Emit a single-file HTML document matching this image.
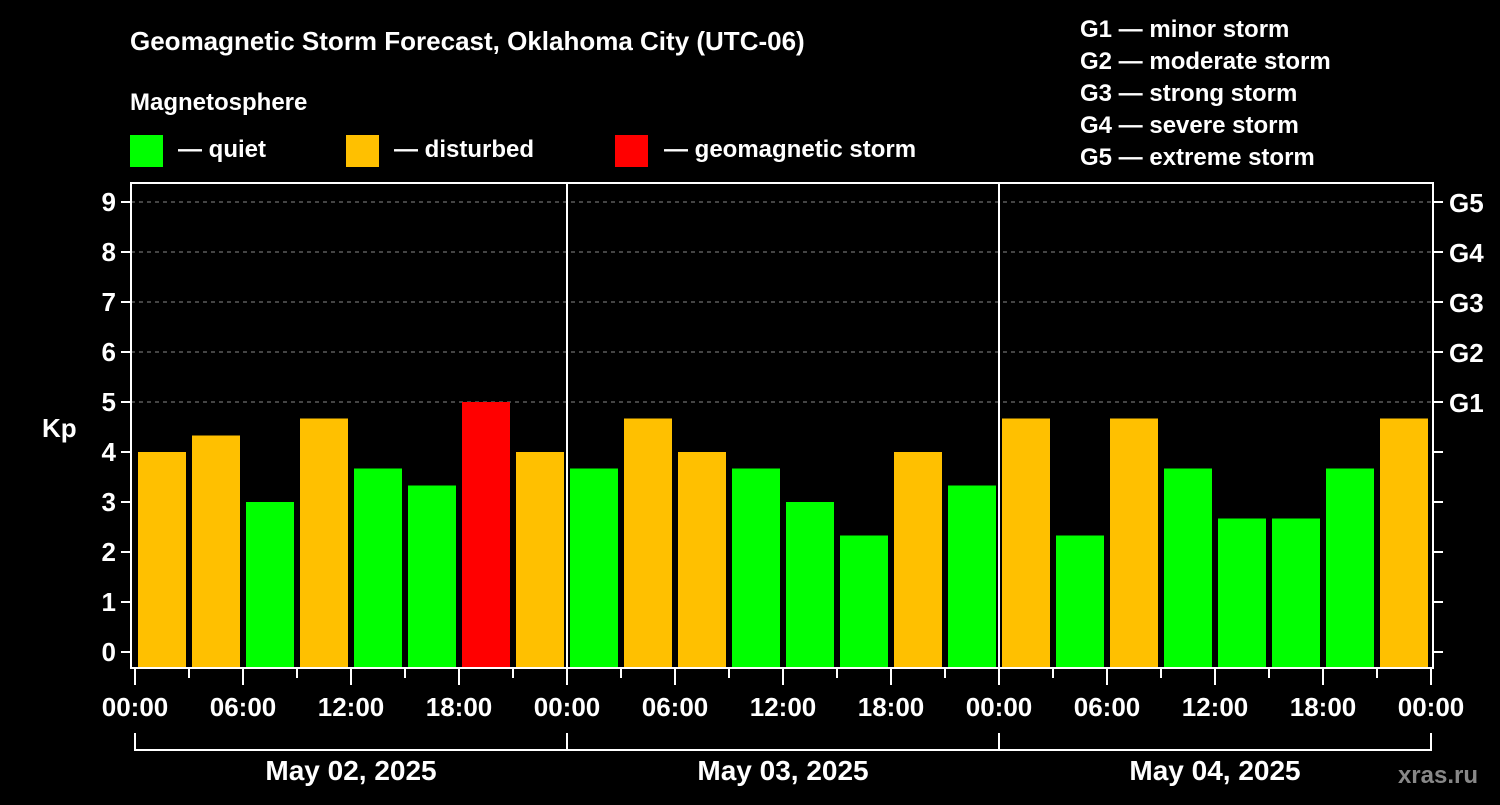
<!DOCTYPE html>
<html><head><meta charset="utf-8"><style>
body{margin:0;background:#000;width:1500px;height:800px;overflow:hidden}
text{font-family:"Liberation Sans",Arial,sans-serif;font-weight:bold;fill:#fff}
</style></head><body>
<svg id="c" width="1500" height="800" xmlns="http://www.w3.org/2000/svg">
<text x="130" y="50" font-size="26">Geomagnetic Storm Forecast, Oklahoma City (UTC-06)</text>
<text x="130" y="110" font-size="24">Magnetosphere</text>
<rect x="130" y="135" width="33" height="32" fill="#00ff00"/>
<text x="178" y="157" font-size="24">— quiet</text>
<rect x="346" y="135" width="33" height="32" fill="#ffc000"/>
<text x="394" y="157" font-size="24">— disturbed</text>
<rect x="615" y="135" width="33" height="32" fill="#ff0000"/>
<text x="664" y="157" font-size="24">— geomagnetic storm</text>
<g font-size="24">
<text x="1080" y="37">G1 — minor storm</text>
<text x="1080" y="69">G2 — moderate storm</text>
<text x="1080" y="101">G3 — strong storm</text>
<text x="1080" y="133">G4 — severe storm</text>
<text x="1080" y="165">G5 — extreme storm</text>
</g>
<text x="42" y="437" font-size="26">Kp</text>
<text x="1478" y="783" font-size="24" fill="#888" style="fill:#888" text-anchor="end">xras.ru</text>
<g id="plot"></g>
</svg>
<script>
const kpValues=[4,4.33,3,4.67,3.67,3.33,5,4, 3.67,4.67,4,3.67,3,2.33,4,3.33, 4.67,2.33,4.67,3.67,2.67,2.67,3.67,4.67];
const dayLabels=["May 02, 2025","May 03, 2025","May 04, 2025"];
const hourLabels=["00:00","06:00","12:00","18:00"];
const yTicks=[0,1,2,3,4,5,6,7,8,9];
const gLabels=["G1","G2","G3","G4","G5"];
const ns="http://www.w3.org/2000/svg";
const g=document.getElementById('plot');
const X0=135,SLOT=54,L=131,R=1433,T=183,B=668;
const y=v=>652-v*50;
const x=i=>X0+i*SLOT;
function mk(t,a,txt){const e=document.createElementNS(ns,t);for(const k in a)e.setAttribute(k,a[k]);if(txt!=null)e.textContent=txt;g.appendChild(e);return e;}
for(let k=5;k<=9;k++){const e=mk('line',{x1:L,x2:R,y1:y(k),y2:y(k),stroke:'#888','stroke-dasharray':'4,4','stroke-width':1});

}
kpValues.forEach((v,i)=>{const col=v>=5?'#ff0000':(v>=4?'#ffc000':'#00ff00');
const e=mk('rect',{x:x(i)+3,y:y(v),width:SLOT-6,height:B-y(v),fill:col});

});
for(let d=1;d<dayLabels.length;d++){const e=mk('line',{x1:x(d*8),x2:x(d*8),y1:T,y2:B,stroke:'#fff','stroke-width':2});

}
const f=mk('rect',{x:L,y:T,width:R-L,height:B-T,fill:'none',stroke:'#fff','stroke-width':2});


yTicks.forEach(k=>{
const a=mk('line',{x1:L-10,x2:L,y1:y(k),y2:y(k),stroke:'#fff','stroke-width':2});


const b=mk('line',{x1:R,x2:R+10,y1:y(k),y2:y(k),stroke:'#fff','stroke-width':2});


const t=mk('text',{x:L-15,y:y(k)+9,'font-size':26,'text-anchor':'end'},String(k));

});
gLabels.forEach((s,i)=>{const t=mk('text',{x:1449,y:y(5+i)+10,'font-size':26},s);

});
for(let i=0;i<=kpValues.length;i++){const major=i%2==0;
const e=mk('line',{x1:x(i),x2:x(i),y1:B,y2:B+(major?17:10),stroke:'#fff','stroke-width':2});


if(major){const t=mk('text',{x:x(i),y:716,'font-size':26,'text-anchor':'middle'},hourLabels[(i/2)%4]);

}}
const br=mk('path',{d:`M${x(0)} 733V750H${x(24)}V733`,fill:'none',stroke:'#fff','stroke-width':2});


dayLabels.forEach((s,d)=>{
if(d>0){const l=mk('line',{x1:x(d*8),x2:x(d*8),y1:733,y2:750,stroke:'#fff','stroke-width':2});

}
const t=mk('text',{x:x(d*8+4),y:780,'font-size':28,'text-anchor':'middle'},s);

});
</script>
</body></html>
